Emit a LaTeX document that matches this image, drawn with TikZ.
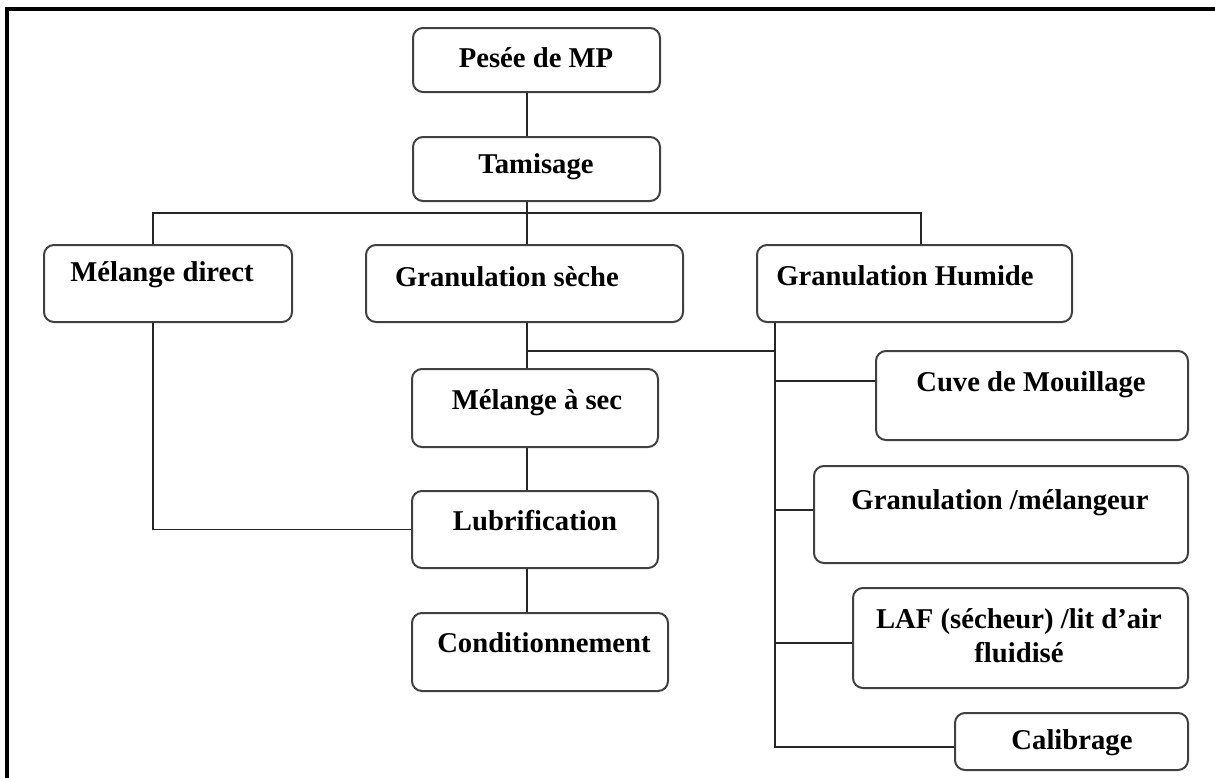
\documentclass[tikz,border=0pt]{standalone}
\usepackage{fontspec}
\setmainfont{Liberation Serif}
\usetikzlibrary{fit}
\begin{document}
\begin{tikzpicture}[x=0.75pt,y=-0.75pt,
  box/.style={draw=black!75, line width=1.5pt, rounded corners=7.5pt, inner sep=0pt},
  txt/.style={font=\fontsize{21.5}{25.5}\selectfont\bfseries, align=center, inner sep=0pt},
  link/.style={draw=black!85, line width=1.1pt},
  frameline/.style={draw=black, line width=2.4pt}]
  \useasboundingbox (0,0) rectangle (1215,778);
  % open page frame: top and left edges only
  \coordinate (fTL) at (7,9);
  \coordinate (fTR) at (1215,9);
  \coordinate (fBL) at (7,778);
  \draw[frameline] (fBL) -- (fTL) -- (fTR);

  % process boxes
  \node[box, fit={(413,28)(660,92)}] (pesee) {};
  \node[box, fit={(413,137)(660,201)}] (tamis) {};
  \node[box, fit={(44,245)(292,322)}] (direct) {};
  \node[box, fit={(366,245)(683,322)}] (seche) {};
  \node[box, fit={(757,245)(1072,322)}] (humide) {};
  \node[box, fit={(412,369)(658,447)}] (asec) {};
  \node[box, fit={(412,491)(658,568)}] (lubri) {};
  \node[box, fit={(412,613)(668,691)}] (condi) {};
  \node[box, fit={(876,351)(1188,440)}] (cuve) {};
  \node[box, fit={(814,466)(1188,563)}] (melang) {};
  \node[box, fit={(853,588)(1188,688)}] (laf) {};
  \node[box, fit={(955,713)(1188,770)}] (calib) {};

  % labels
  \node[txt] (pesee-t) at (536,58) {Pesée de MP};
  \node[txt] (tamis-t) at (536,167) {Tamisage};
  \node[txt] (direct-t) at (162,275) {Mélange direct};
  \node[txt] (seche-t) at (507,277) {Granulation sèche};
  \node[txt] (humide-t) at (905,276) {Granulation Humide};
  \node[txt] (asec-t) at (537,403) {Mélange à sec};
  \node[txt] (lubri-t) at (535,521) {Lubrification};
  \node[txt] (condi-t) at (544,643) {Conditionnement};
  \node[txt] (cuve-t) at (1031,385) {Cuve de Mouillage};
  \node[txt] (melang-t) at (1000,503) {Granulation /mélangeur};
  \node[txt] (laf-t) at (1019,636) {LAF (sécheur) /lit d’air\\fluidisé};
  \node[txt] (calib-t) at (1072,743) {Calibrage};

  % junction points
  \coordinate (bus) at (527,213);
  \coordinate (busL) at (153,213);
  \coordinate (busR) at (921,213);
  \coordinate (split) at (527,351);
  \coordinate (trunk) at (775,351);
  \coordinate (trunkEnd) at (775,747);

  % connectors
  \draw[link] (pesee.south -| bus) -- (tamis.north -| bus);
  \draw[link] (tamis.south -| bus) -- (bus);
  \draw[link] (direct.north -| busL) -- (busL) -- (busR) -- (humide.north -| busR);
  \draw[link] (bus) -- (seche.north -| bus);
  \draw[link] (seche.south -| bus) -- (asec.north -| bus);
  \draw[link] (split) -- (trunk);
  \draw[link] (asec.south -| bus) -- (lubri.north -| bus);
  \draw[link] (lubri.south -| bus) -- (condi.north -| bus);
  \draw[link] (direct.south -| busL) |- (lubri.west);
  \draw[link] (humide.south -| trunk) -- (trunkEnd) -- (trunkEnd -| calib.west);
  \draw[link] (trunk |- 0,381) -- (cuve.west |- 0,381);
  \draw[link] (trunk |- 0,510) -- (melang.west |- 0,510);
  \draw[link] (trunk |- 0,643) -- (laf.west |- 0,643);
\end{tikzpicture}
\end{document}
